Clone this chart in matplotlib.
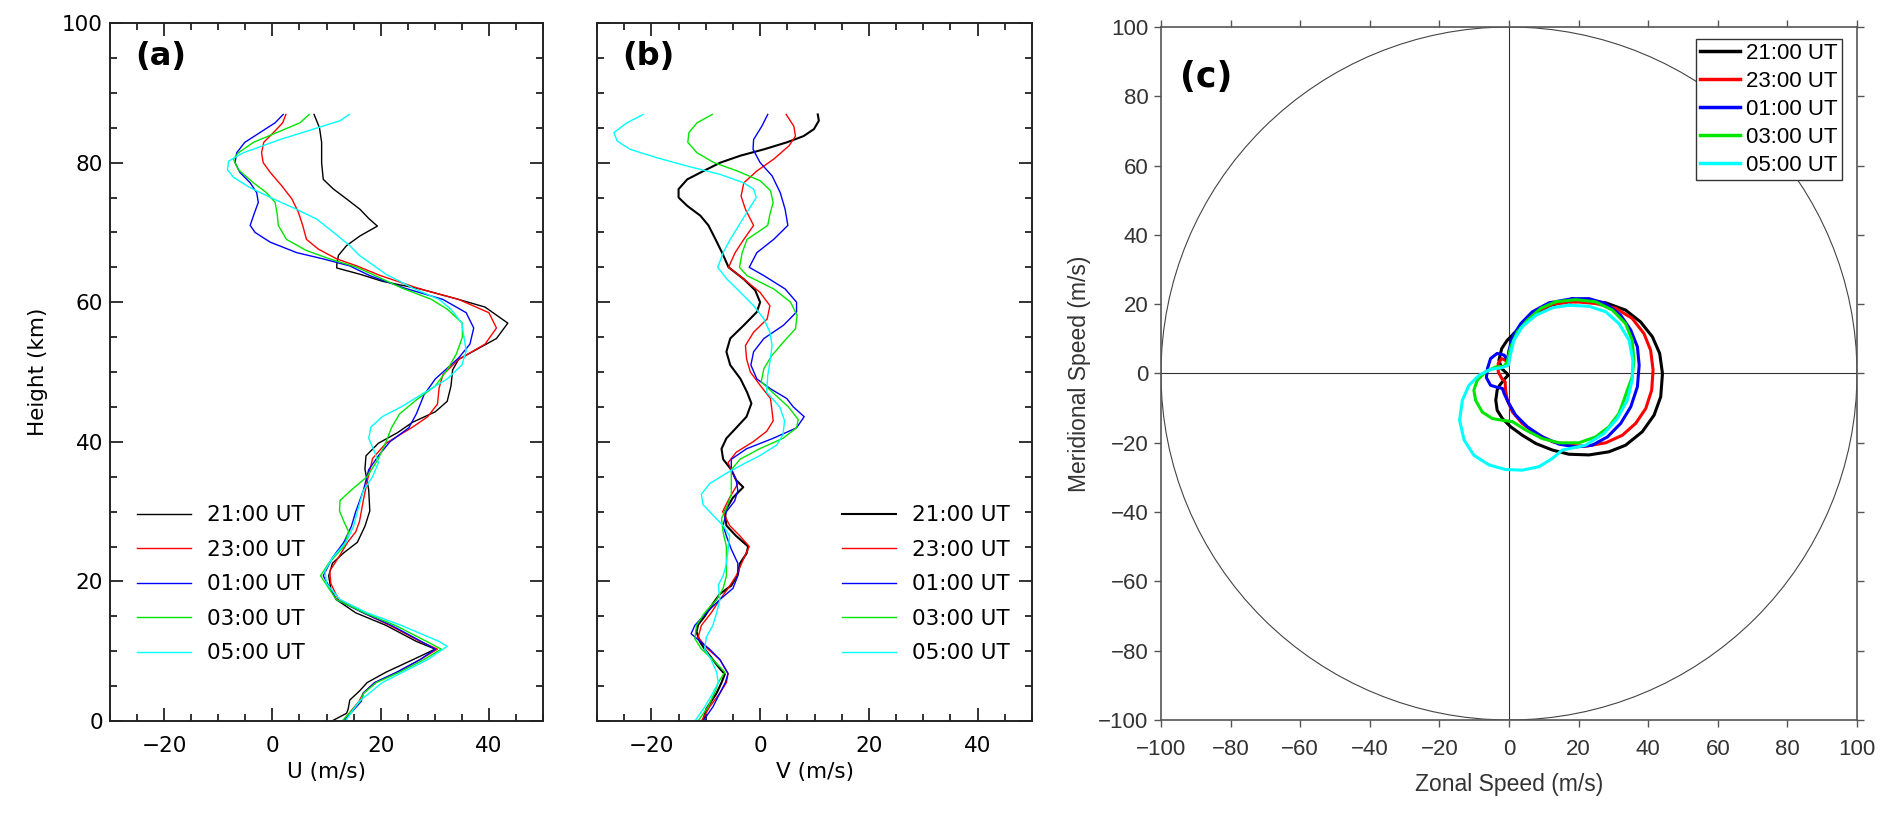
import matplotlib
matplotlib.use("Agg")
import matplotlib.pyplot as plt
from matplotlib.patches import Circle
from matplotlib.ticker import MultipleLocator

# ---------------- data ----------------
labels = ["21:00 UT", "23:00 UT", "01:00 UT", "03:00 UT", "05:00 UT"]
colors = ["#000000", "#ff0000", "#0000ff", "#00e600", "#00ffff"]

# Panel (a): zonal wind U (m/s) vs height (km)
U21_h = [0, 1.1, 1.7, 3, 4.3, 5.5, 7, 8.8, 10.3, 11.4, 13.7, 15.5, 17.4, 18.9, 20.8, 22.6, 24.1, 25.6, 27.9, 30.1,
         33.1, 36.1, 38, 39.8, 41.3, 42.8, 44.3, 45.8, 48, 50.3, 51.8, 53.3, 54.8, 57, 59.3, 60.4, 61.9, 63, 64, 64.9,
         65.4, 66.7, 68.1, 69.5, 70.9, 72, 73.3, 74.8, 76.2, 77.6, 80, 82.9, 85, 86.9]
U21 = [11.0, 13.7, 14.0, 14.3, 16.1, 17.5, 21, 26, 30.1, 26.6, 21, 15.4, 11.8, 10.8, 10.4, 11.1, 13.2, 15.7, 17.1, 18.0,
       17.8, 17.1, 17.3, 19.6, 23.1, 25.9, 30.1, 32.3, 33, 33.3, 34.4, 37.9, 41.4, 43.5, 39.3, 34.4, 27.3, 20.3, 16.2,
       11.9, 11.9, 12.2, 13.7, 16.2, 19.4, 17.8, 16.2, 13.7, 11.3, 9.4, 9.1, 9.1, 8.7, 7.7]
U23_h = [0, 2.8, 4, 5.5, 7, 8.8, 10.3, 11.4, 13.7, 15.5, 17.4, 19.7, 21.5, 23.4, 25.6, 27.1, 28.6, 31.6, 34.6, 37.6,
         39.8, 42.1, 43.6, 45.4, 47.7, 49.6, 51.8, 54, 56.3, 58.5, 60.4, 61.9, 63.8, 65.2, 66.2, 67.6, 69, 71, 72.9,
         74.8, 76.7, 78.6, 80, 81.4, 82.9, 84.3, 85.7, 86.9]
U23 = [13, 16, 16.8, 18.9, 23.1, 27.3, 30.5, 27.3, 21.7, 16.8, 12.2, 10.8, 10.6, 12.2, 13.9, 15.4, 16.1, 16.8, 17.6, 18.5,
       21, 25.9, 28.7, 30.5, 30.8, 31.5, 34.4, 39.3, 41.4, 40, 34.4, 27.3, 20, 15.6, 11.9, 8.5, 6.3, 5.6, 4.8,
       3.6, 1.7, -0.4, -1.7, -2, -1.6, 0.2, 1.9, 2.5]
U01_h = [0, 2.8, 4, 5.5, 7, 8.8, 10.3, 11.4, 13.7, 15.5, 17.4, 20.8, 23.4, 25.6, 27.9, 30, 33, 36, 38, 40, 42, 44, 46.7,
         49, 52, 54, 56.3, 58.5, 60.4, 62, 63.8, 65.2, 66.2, 67.1, 68.6, 70, 71, 72.6, 74.3, 75.7, 77.1, 78.6, 80,
         81.4, 82.9, 84.3, 85.7, 86.9]
U01 = [13.2, 16.4, 16.8, 18.9, 23, 27.3, 30.1, 27.5, 22, 16.8, 11.8, 9.4, 11.1, 13.2, 14.6, 15.4, 16.8, 17.8, 19.6, 21.7,
       25.2, 26.6, 28, 30.1, 34.4, 36.5, 37.2, 35.8, 31.5, 24.5, 18, 14.3, 9.4, 4.5, -0.4, -3.2, -4.1, -3.4, -2.6,
       -2.9, -4.1, -6, -6.9, -6.6, -5.1, -2.3, 0.5, 2.0]
U03_h = [0, 2.8, 4, 5.5, 7, 8.8, 10.3, 11.4, 13.7, 15.5, 17.4, 20.8, 22.6, 25, 27.1, 28.6, 30.1, 31.6, 33.1, 35, 37.6,
         40, 42, 44, 46, 48, 50.3, 52.6, 55, 57, 59, 60.4, 62, 63.8, 65, 66.2, 67.4, 69, 71, 72.6, 74.3, 75.7, 77.1,
         79, 80.5, 81.4, 82.9, 84.3, 85.7, 86.9]
U03 = [12.9, 16.2, 16.9, 19.2, 23.5, 28, 31.2, 28.5, 22.7, 17, 11.8, 8.9, 10.4, 13.2, 14.1, 13.2, 12.4, 12.5, 14.6, 17.5,
       19.6, 21, 22, 23.5, 26.6, 30.1, 32.3, 34, 35.1, 35.1, 32.3, 29.4, 24, 19, 15.6, 10.6, 6.3, 2.6, 1.1, 0.9, 0.5,
       -1.1, -3.5, -6.3, -7.2, -6.3, -3.5, 0.8, 5.1, 6.8]
U05_h = [0, 2.8, 5.5, 8.8, 10.7, 11.4, 13.7, 15.5, 17.4, 19.7, 21.5, 23.4, 25.6, 27.9, 30, 33, 35, 37, 38.5, 40.5,
         42.1, 43.6, 45, 47, 49, 51, 53, 55, 57, 59, 60.4, 62, 64, 66.7, 68.1, 70, 71.9, 73.3, 74.8, 76.4, 77.9, 79,
         80.2, 81.4, 83.3, 84.8, 86, 86.9]
U05 = [13.5, 16, 20.3, 28.7, 32.3, 30.8, 23.8, 17.5, 12.5, 10, 9.7, 11.1, 13.6, 15, 15.7, 16.8, 18.5, 19.6, 18.9, 17.8,
       18.2, 20.3, 23.8, 28, 32.3, 35, 35.8, 35.4, 35, 33, 30.8, 26, 21, 16.1, 14.3, 11.3, 8.2, 4.5, 0.2, -4.1, -7.2,
       -8.3, -8.1, -5.4, 1.4, 7.6, 12.5, 14.2]

# Panel (b): meridional wind V (m/s) vs height (km)
V21_h = [0, 1.7, 2.8, 4, 5.5, 6.7, 7.5, 8.8, 10.3, 11.4, 12.8, 13.8, 15, 16.8, 18.2, 19.4, 21, 22.6, 24, 25, 26.5, 28,
         30, 32, 33.5, 34.5, 36, 37.5, 39, 40.5, 42, 43.6, 45.5, 47.1, 49, 51, 52.9, 54.8, 56.7, 58.6, 60, 61.7, 63.3,
         65, 67.1, 69, 71, 72.4, 73.8, 75, 76.2, 77.6, 78.8, 80, 81, 81.9, 82.9, 83.8, 84.8, 86, 86.9]
V21 = [-10.5, -9.9, -9, -8, -7.1, -6.5, -7.4, -8.7, -10.2, -11.1, -11.7, -11.4, -10.2, -8.7, -7.4, -5.3, -4.1, -3.7,
       -2.5, -2.2, -4.4, -6.2, -6.5, -5, -3.1, -4.4, -5.3, -6.8, -7.1, -6.2, -4.4, -2.5, -1.6, -2.4, -3.6, -5.5, -6.2,
       -5.5, -3, -0.6, 0.0, -0.9, -3, -5.8, -7, -8.2, -9.5, -11, -13.4, -15, -15, -13.4, -10.4, -7.3, -3.6, 0.7, 4.9,
       8.0, 9.9, 10.8, 10.6]
V23_h = [0, 2, 4, 5.5, 6.8, 8.8, 10.3, 12, 13.7, 15.5, 17.4, 19, 20.8, 22.6, 24.2, 25, 26.5, 28, 30, 32, 34, 35.5, 37,
         38.5, 40, 41.5, 43, 45, 46.2, 48.1, 50, 51.9, 53.8, 55.7, 57.6, 59.5, 61.4, 63.3, 65, 67.1, 69, 71, 73.3,
         75.2, 77.1, 78.8, 80.5, 82.4, 83.8, 85.2, 86.9]
V23 = [-10.8, -9.3, -7.4, -6.2, -5.9, -7.4, -9.6, -11.4, -10.8, -9, -7.4, -5.9, -4.4, -3.4, -2.5, -2, -3.7, -5.6, -6.9,
       -5.6, -4.1, -5, -5.9, -4.4, -1.3, 1.2, 2.4, 2.1, 1.9, 0, -1.8, -2.5, -2.7, -1.2, 1.3, 1.8, 0, -3, -5.8, -4.6,
       -3, -1.2, -2.7, -3.5, -3, -0.6, 2.5, 5.3, 6.5, 6.2, 4.8]
V01_h = [0, 2, 4, 5.5, 6.8, 8.8, 10.3, 12.5, 13.7, 15.5, 17.4, 19, 20.8, 22.6, 24.6, 26.5, 28, 30, 31.5, 33, 34.5, 36,
         37.5, 39, 40.5, 42, 43.6, 45, 46.2, 47.6, 49, 51, 52.9, 54.8, 56.7, 58.6, 60, 61.9, 63.8, 65, 67.1, 69, 71,
         73.3, 75.7, 78.1, 80, 81.9, 83.3, 85.2, 86.9]
V01 = [-10.5, -8.7, -7.4, -6.4, -5.9, -7.4, -9.3, -12.7, -12, -9.9, -7.4, -5, -4.1, -4.1, -5.3, -6.2, -6.8, -6.2, -4.7,
       -4.1, -4.4, -5.3, -5.3, -2.5, 2.4, 6.7, 8.1, 6.1, 4.9, 1.9, -0.6, -1.7, -1.2, 0.7, 4.3, 6.7, 6.7, 4.6, 0.7, -2,
       -0.6, 2.5, 5.1, 4.6, 3.7, 2.2, 0, -1.3, -1.2, 0.3, 1.4]
V03_h = [0, 2, 4, 5.5, 7, 8.8, 10.3, 11.8, 13.7, 15.5, 17.4, 19, 20.8, 23, 25, 27, 29, 30.5, 32.5, 34.5, 36, 37.5, 39,
         40.5, 42, 43.2, 45, 47, 48.6, 50.5, 52.4, 54.3, 56.2, 58.1, 60, 61.9, 63.8, 65, 67.1, 69, 71, 72.6, 74.3, 76,
         77.4, 78.8, 80, 81.4, 82.9, 84.3, 85.7, 86.9]
V03 = [-11.4, -9.6, -8.4, -7.7, -6.5, -8.7, -10.8, -12, -11.7, -10.2, -8, -6.8, -6.2, -6.2, -6.2, -6.8, -7.1, -6.2,
       -5.3, -5.3, -5.3, -3.7, -0.1, 4.2, 6.7, 7, 5.2, 2.4, 0.2, 0.7, 2.2, 4.3, 6.5, 6.8, 5.6, 2.5, -2.4, -3.8, -3.3,
       -2.4, 1.4, 1.8, 2.4, 1.9, 0, -4.2, -8.5, -11.6, -13.3, -13.1, -11.6, -8.8]
V05_h = [0, 2, 4, 5.5, 7, 8.8, 10.3, 12, 13.7, 15.5, 17.4, 19.5, 20.8, 22.6, 24.5, 26.5, 28, 29.5, 31, 32.5, 34, 35.5,
         36.8, 38, 39.5, 41, 43, 45, 47.1, 49.5, 51.9, 53.8, 55.7, 57.6, 59.5, 61.4, 63.3, 65, 67.1, 69, 71.4, 73.3,
         75, 76.2, 77.1, 78.3, 79.5, 80.7, 81.9, 83.1, 84.3, 85.7, 86.9]
V05 = [-12, -10.2, -8.7, -7.7, -8, -9, -10.2, -9.9, -8.7, -8, -7.4, -7.7, -6.8, -6.2, -5.9, -5.6, -6.8, -8.7, -10.5,
       -10.8, -9.3, -6.2, -3.1, -0.1, 3, 4.2, 4.5, 3.6, 1.2, 1.4, 1.9, 2.2, 1.8, 0.7, -1.2, -3.6, -6.1, -7.8, -6.8,
       -5.5, -3.6, -2.1, -0.7, -1.2, -3, -7.3, -13.4, -19, -23.9, -26.3, -26.9, -24.5, -21.5]

# Panel (c): hodograph, zonal (x) and meridional (y) speed (m/s)
H21_x = [1.4, -0.5, -2.1, -2.9, -2.1, -0.8, -0.2, -1.1, -2.7, -3.4, -3.8, -3.4, -1.9, 0.5, 3.8, 7.7, 12.5, 17.2, 23,
         28.7, 33.5, 38.3, 41.7, 43.6, 44.1, 43.3, 41.2, 37.8, 33.5, 27.8, 21.1, 16.3, 11.5, 6.7, 3.4, 1.4]
H21_y = [11.5, 9.6, 7.2, 3.8, 1.4, 0.2, -0.5, -1.4, -3.4, -4.8, -7.7, -10.6, -13, -15.4, -17.8, -20.2, -22.1, -23.3,
         -23.5, -22.6, -20.7, -16.8, -12, -6.7, 0, 5.8, 10.6, 14.9, 18.3, 20.4, 21.2, 21, 19.4, 16.3, 13.5, 11.5]
H23_x = [19.2, 24.9, 30.7, 35.4, 38.8, 40.7, 41.4, 41, 39.3, 36.4, 32.6, 27.8, 22, 17.2, 12.5, 7.7, 3.8, 1, -0.5, -1,
         -1.1, -2.1, -3.1, -3.1, -2.1, -1, -0.2, 0.5, 1.9, 4.3, 7.7, 12.5, 19.2]
H23_y = [20.7, 20.2, 18.8, 15.9, 11.5, 6.7, 1, -4.8, -10.1, -14.4, -17.8, -20, -21, -20.7, -19.7, -17.3, -14.4, -11.1,
         -7.7, -4.8, -2.4, -1.4, 0.5, 2.9, 4.3, 3.8, 2.4, 7.7, 11.5, 14.9, 17.8, 20, 20.7]
H01_x = [18.2, 23, 27.8, 32.1, 35, 36.9, 37.4, 36.9, 35, 32.1, 28.3, 23.9, 19.2, 14.4, 9.6, 5.3, 1.9, 0, -1.4, -1.9,
         -3.4, -5.3, -6.5, -6.2, -5.3, -3.4, -1.4, -0.5, 0, 1, 3.4, 6.7, 11.5, 18.2]
H01_y = [21.6, 21.6, 20.2, 16.8, 12.5, 7.7, 2.4, -3.8, -9.6, -14.4, -18.3, -20.7, -21.2, -20.4, -18.3, -15.4, -12,
         -8.7, -5.8, -4.3, -4, -3.4, -1.2, 1.4, 4.3, 5.8, 5.3, 3.8, 6.7, 10.6, 14.4, 17.8, 20.4, 21.6]
H03_x = [13.4, 19.2, 24.9, 29.7, 33.5, 35.4, 35.9, 35.4, 34, 33, 31.6, 28.7, 24.9, 20.1, 14.4, 9.6, 4.8, 1, -1.9,
         -4.8, -7.7, -9.6, -10.1, -9.1, -6.7, -3.8, -1.4, -0.5, 0.5, 2.4, 5.3, 9.1, 13.4]
H03_y = [20.7, 21.3, 20.7, 18.3, 14.4, 9.6, 3.8, -1, -4.8, -7.7, -11.5, -15.4, -18.3, -20, -20, -18.8, -16.3, -13.9,
         -13.5, -13, -11.1, -7.7, -4.8, -1.9, 0.5, 1.9, 2.1, 3.4, 7.7, 12, 15.4, 18.8, 20.7]
H05_x = [17.2, 23, 27.8, 31.6, 34.5, 35.6, 35.4, 34, 31.1, 27.3, 22, 15.3, 12.5, 8.6, 3.8, -1, -5.7, -10.1, -12.9,
         -14.2, -13.4, -11.5, -8.6, -5.3, -1.9, -0.2, 0.5, 1.4, 3.8, 7.7, 12.5, 17.2]
H05_y = [19.7, 19.4, 17.8, 14.4, 9.6, 3.8, -1.9, -7.7, -13, -17.3, -20.7, -22.1, -24.5, -26.9, -27.9, -27.7, -26.4,
         -23.6, -19.2, -13.5, -7.7, -3.4, -0.5, 1.2, 1.7, 2.4, 5.8, 9.6, 13.5, 16.8, 19, 19.7]

U_h = [U21_h, U23_h, U01_h, U03_h, U05_h]
U_v = [U21, U23, U01, U03, U05]
V_h = [V21_h, V23_h, V01_h, V03_h, V05_h]
V_v = [V21, V23, V01, V03, V05]
H_x = [H21_x, H23_x, H01_x, H03_x, H05_x]
H_y = [H21_y, H23_y, H01_y, H03_y, H05_y]

# ---------------- figure ----------------
W, H = 1892, 818
fig = plt.figure(figsize=(W / 100, H / 100), dpi=100)


def box(x0, y0, x1, y1):
    return [x0 / W, 1 - y1 / H, (x1 - x0) / W, (y1 - y0) / H]


ax_a = fig.add_axes(box(110, 23, 543, 721))
ax_b = fig.add_axes(box(597, 23, 1032, 721))
ax_c = fig.add_axes(box(1161, 27, 1857, 720))

fs = 15.5
spine_col = "#222222"
for ax, hs, vs, xl, tag, lx in [(ax_a, U_h, U_v, "U (m/s)", "(a)", 0.062),
                                 (ax_b, V_h, V_v, "V (m/s)", "(b)", 0.564)]:
    for i in range(5):
        lw = 1.0
        if ax is ax_b and i == 0:
            lw = 1.5
        ax.plot(vs[i], hs[i], color=colors[i], lw=lw, label=labels[i], solid_joinstyle="round")
    ax.set_xlim(-30, 50)
    ax.set_ylim(0, 100)
    ax.xaxis.set_major_locator(MultipleLocator(20))
    ax.xaxis.set_minor_locator(MultipleLocator(5))
    ax.yaxis.set_major_locator(MultipleLocator(20))
    ax.yaxis.set_minor_locator(MultipleLocator(5))
    ax.tick_params(which="both", direction="in", top=True, right=True, color=spine_col, width=1.3)
    ax.tick_params(which="major", length=9.5)
    ax.tick_params(which="minor", length=5)
    ax.tick_params(axis="x", which="major", pad=11, labelsize=fs)
    ax.tick_params(axis="y", which="major", pad=5, labelsize=fs)
    for s in ax.spines.values():
        s.set_linewidth(1.4)
        s.set_color(spine_col)
    ax.set_xlabel(xl, fontsize=fs, labelpad=4)
    ax.text(0.058, 0.952, tag, transform=ax.transAxes, fontsize=23, fontweight="bold",
            ha="left", va="center")
    ax.legend(loc="lower left", bbox_to_anchor=(lx, 0.083), frameon=False, fontsize=fs,
              handlelength=2.5, handletextpad=0.75, labelspacing=0.67, borderpad=0,
              borderaxespad=0)

ax_a.set_ylabel("Height (km)", fontsize=fs, labelpad=10)
ax_b.tick_params(axis="y", labelleft=False)

# Panel (c)
cfont = "Liberation Sans"
gray = "#555555"
tcol = "#333333"
ax_c.add_patch(Circle((0, 0), 100, fill=False, ec="#444444", lw=0.8, zorder=1))
ax_c.axhline(0, color="#333333", lw=0.8, zorder=1)
ax_c.axvline(0, color="#333333", lw=0.8, zorder=1)
for i in range(5):
    ax_c.plot(H_x[i], H_y[i], color=colors[i], lw=2.2, label=labels[i], zorder=3,
              solid_joinstyle="round")
ax_c.set_xlim(-100, 100)
ax_c.set_ylim(-100, 100)
ax_c.xaxis.set_major_locator(MultipleLocator(20))
ax_c.yaxis.set_major_locator(MultipleLocator(20))
ax_c.tick_params(direction="out", top=True, right=True, length=5, width=1.0, color=gray,
                 labelcolor=tcol, labelsize=16)
ax_c.tick_params(axis="x", pad=9)
ax_c.tick_params(axis="y", pad=4)
for t in ax_c.get_xticklabels() + ax_c.get_yticklabels():
    t.set_fontfamily(cfont)
for s in ax_c.spines.values():
    s.set_linewidth(1.2)
    s.set_color(gray)
ax_c.set_xlabel("Zonal Speed (m/s)", fontsize=16.5, family=cfont, color=tcol, labelpad=9)
ax_c.set_ylabel("Meridional Speed (m/s)", fontsize=16.5, family=cfont, color=tcol, labelpad=5)
ax_c.text(0.028, 0.928, "(c)", transform=ax_c.transAxes, fontsize=25, fontweight="bold",
          ha="left", va="center")
legc = ax_c.legend(loc="upper right", bbox_to_anchor=(0.978, 0.983),
                   prop={"family": cfont, "size": 16}, frameon=True, fancybox=False,
                   edgecolor="#333333", framealpha=1, handlelength=1.8, handletextpad=0.25,
                   labelspacing=0.31, borderpad=0.2, borderaxespad=0)
legc.get_frame().set_linewidth(1.0)
for ln in legc.get_lines():
    ln.set_linewidth(2.5)

fig.savefig("out.png", dpi=100)
